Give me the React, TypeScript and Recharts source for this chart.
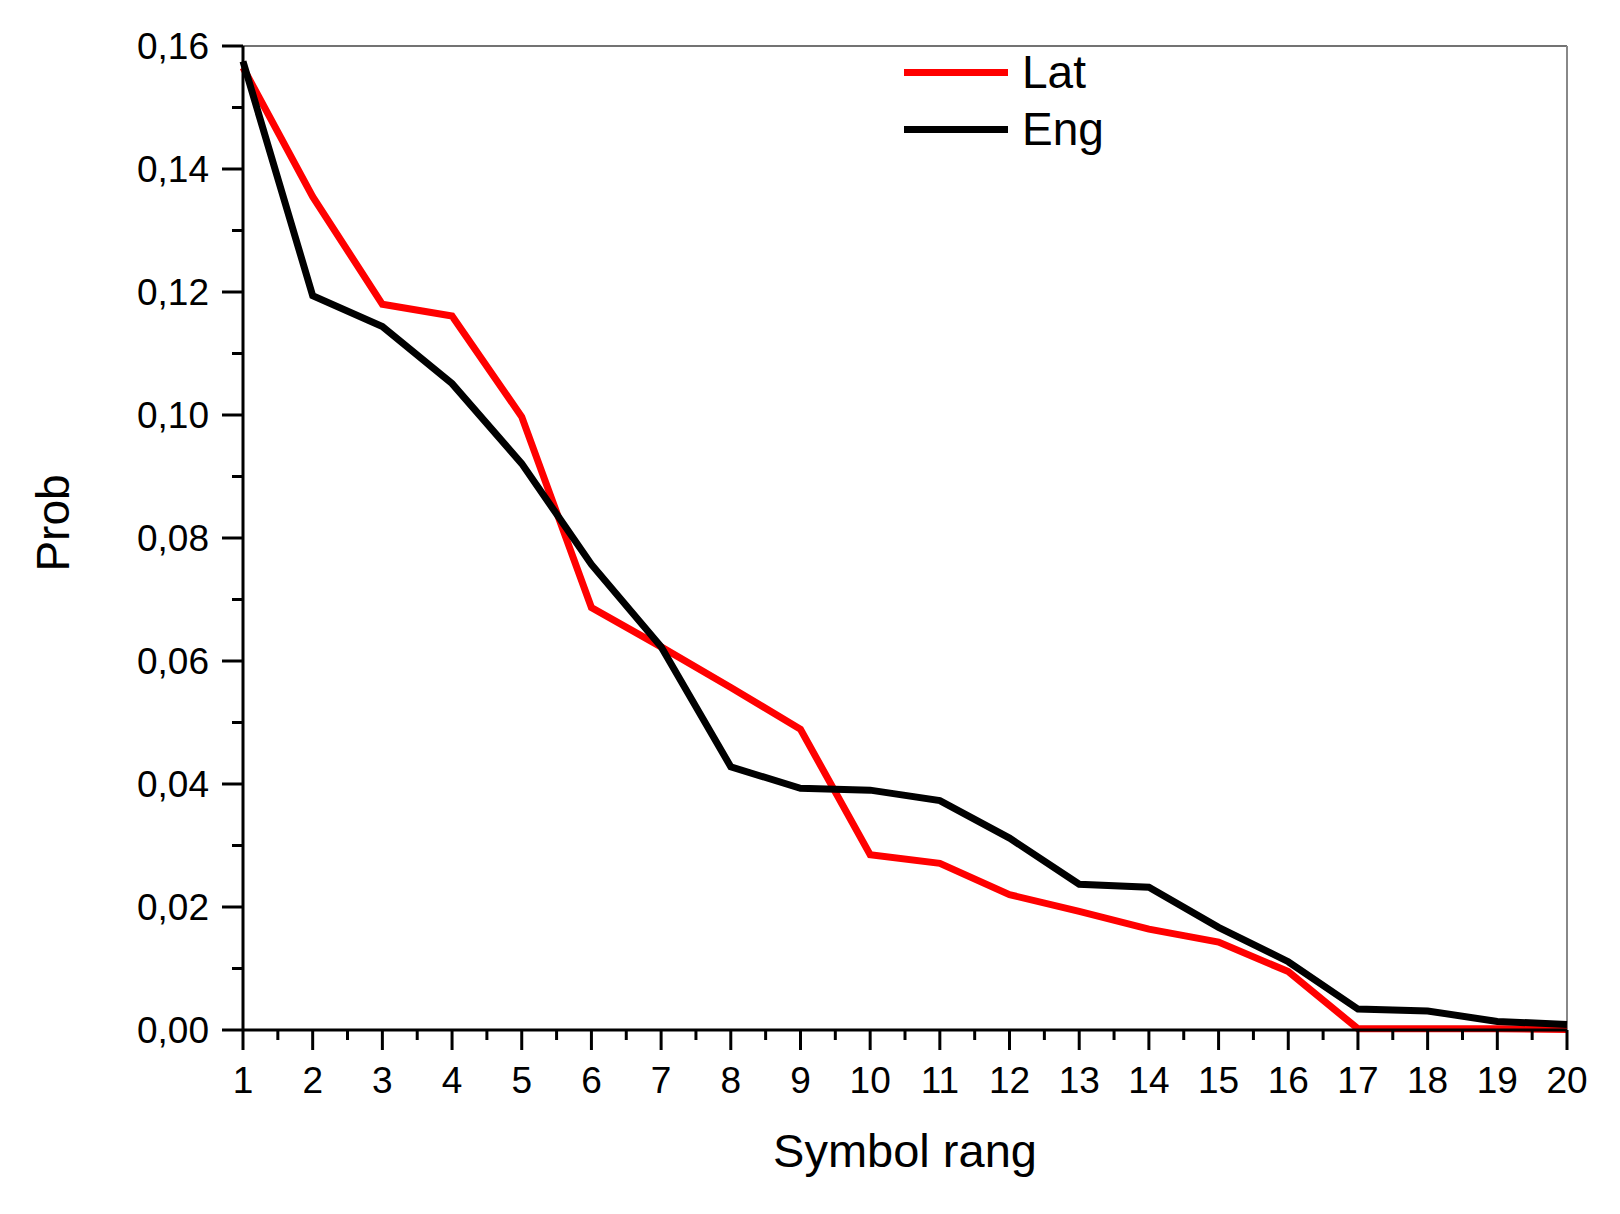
import { Legend, Line, LineChart, ReferenceLine, XAxis, YAxis } from 'recharts'

const FONT = '"Liberation Sans", Arial, sans-serif'

// Rang der Symbole (x) und die Wahrscheinlichkeiten der beiden Sprachen
const RANKS = [1, 2, 3, 4, 5, 6, 7, 8, 9, 10, 11, 12, 13, 14, 15, 16, 17, 18, 19, 20]
const LAT = [
  0.1565, 0.1355, 0.118, 0.1161, 0.0997, 0.0687, 0.0623, 0.0557, 0.0489, 0.0285,
  0.0271, 0.022, 0.0193, 0.0164, 0.0143, 0.0095, 0.0002, 0.0002, 0.0002, 0.0001,
]
const ENG = [
  0.1575, 0.1194, 0.1144, 0.1051, 0.0921, 0.0757, 0.0623, 0.0428, 0.0393, 0.039,
  0.0373, 0.0312, 0.0237, 0.0232, 0.0167, 0.0111, 0.0034, 0.0031, 0.0014, 0.0009,
]

const X_MAJOR = RANKS
const X_MINOR = RANKS.slice(0, -1).map((r) => r + 0.5)
const Y_MAJOR = [0, 0.02, 0.04, 0.06, 0.08, 0.1, 0.12, 0.14, 0.16]
const Y_MINOR = [0.01, 0.03, 0.05, 0.07, 0.09, 0.11, 0.13, 0.15]

const SERIES = [
  { key: 'lat', name: 'Lat', color: '#ff0000' },
  { key: 'eng', name: 'Eng', color: '#000000' },
]

const rows = RANKS.map((r, i) => ({ rank: r, lat: LAT[i], eng: ENG[i] }))

function XTick({ x, y, payload }: any) {
  const major = Number.isInteger(payload.value)
  return (
    <g>
      <line x1={x} x2={x} y1={y} y2={y + (major ? 20 : 10)} stroke="#000" strokeWidth={3} />
      {major && (
        <text x={x} y={y + 63} textAnchor="middle" fontSize={37} fontFamily={FONT} fill="#000">
          {payload.value}
        </text>
      )}
    </g>
  )
}

function YTick({ x, y, payload }: any) {
  const major = Math.round(payload.value * 100) % 2 === 0
  return (
    <g>
      <line x1={x} x2={x - (major ? 21 : 11)} y1={y} y2={y} stroke="#000" strokeWidth={3} />
      {major && (
        <text x={x - 34} y={y + 13} textAnchor="end" fontSize={37} fontFamily={FONT} fill="#000">
          {payload.value.toFixed(2).replace('.', ',')}
        </text>
      )}
    </g>
  )
}

function LegendBox() {
  return (
    <div style={{ fontFamily: FONT, color: '#000' }}>
      {SERIES.map((s) => (
        <div key={s.key} style={{ display: 'flex', alignItems: 'center', height: 57 }}>
          <div style={{ width: 104, height: 7, background: s.color }} />
          <span style={{ marginLeft: 14, fontSize: 46, lineHeight: '57px' }}>{s.name}</span>
        </div>
      ))}
    </div>
  )
}

export default function App() {
  return (
    <div style={{ position: 'absolute', left: 0, top: 0, width: 1620, height: 1214, background: '#fff' }}>
      <LineChart
        width={1620}
        height={1214}
        data={rows}
        margin={{ top: 46, right: 53, bottom: 1, left: 1 }}
      >
        <XAxis
          dataKey="rank"
          type="number"
          domain={[1, 20]}
          ticks={[...X_MAJOR, ...X_MINOR].sort((a, b) => a - b)}
          interval={0}
          height={183}
          tickSize={0}
          tickMargin={0}
          tickLine={false}
          tick={<XTick />}
          axisLine={{ stroke: '#000', strokeWidth: 3 }}
          label={(p: any) => (
            <text
              x={p.viewBox.x + p.viewBox.width / 2}
              y={p.viewBox.y + 137}
              textAnchor="middle"
              fontSize={47}
              fontFamily={FONT}
              fill="#000"
            >
              Symbol rang
            </text>
          )}
        />
        <YAxis
          type="number"
          domain={[0, 0.16]}
          ticks={[...Y_MAJOR, ...Y_MINOR].sort((a, b) => a - b)}
          interval={0}
          width={242}
          tickSize={0}
          tickMargin={0}
          tickLine={false}
          tick={<YTick />}
          axisLine={{ stroke: '#000', strokeWidth: 3 }}
          label={(p: any) => {
            const cx = p.viewBox.x + p.viewBox.width - 190
            const cy = p.viewBox.y + p.viewBox.height / 2 - 15
            return (
              <text
                x={cx}
                y={cy}
                transform={`rotate(-90, ${cx}, ${cy})`}
                textAnchor="middle"
                dominantBaseline="central"
                fontSize={46}
                fontFamily={FONT}
                fill="#000"
              >
                Prob
              </text>
            )
          }}
        />
        <ReferenceLine y={0.16} stroke="#444" strokeWidth={1.5} />
        <ReferenceLine x={20} stroke="#888" strokeWidth={2} />
        <Legend
          layout="vertical"
          align="center"
          verticalAlign="middle"
          content={<LegendBox />}
          wrapperStyle={{ left: 904, top: 44, width: 260, height: 114 }}
        />
        {SERIES.map((s) => (
          <Line
            key={s.key}
            dataKey={s.key}
            name={s.name}
            stroke={s.color}
            strokeWidth={7}
            dot={false}
            activeDot={false}
            isAnimationActive={false}
          />
        ))}
      </LineChart>
    </div>
  )
}
